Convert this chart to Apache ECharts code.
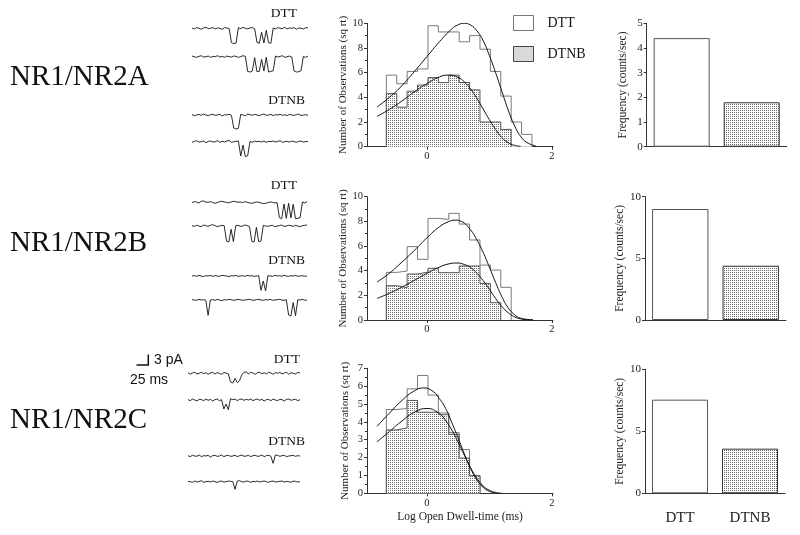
<!DOCTYPE html>
<html><head><meta charset="utf-8">
<script src="https://cdn.jsdelivr.net/npm/echarts@6/dist/echarts.min.js"></script>
<style>html,body{margin:0;padding:0;background:#fff}#c{width:800px;height:535px}</style>
</head><body><div id="c"></div>
<script>
// ================= DATA =================
const rowNames = ['NR1/NR2A', 'NR1/NR2B', 'NR1/NR2C'];
const conditions = ['DTT', 'DTNB'];

// histogram bin edges (log ms)
const binEdges = [-0.65, -0.483, -0.317, -0.15, 0.017, 0.183, 0.35, 0.517, 0.683, 0.85, 1.017, 1.183, 1.35, 1.517, 1.683];
// sqrt counts per bin
const dttHistA  = [5.8, 5.1, 6.1, 6.3, 9.8, 9.3, 9.3, 8.5, 9.0, 7.9, 6.1, 4.1, 2.0, 1.0];
const dtnbHistA = [4.3, 3.2, 4.5, 5.0, 5.6, 5.2, 5.8, 5.2, 4.6, 2.0, 2.0, 1.4];
const dttHistB  = [3.86, 3.97, 5.95, 4.92, 8.24, 8.16, 8.65, 7.78, 6.49, 4.45, 4.05, 2.65];
const dtnbHistB = [2.78, 2.62, 3.73, 3.89, 4.19, 3.84, 3.84, 4.38, 4.38, 2.97, 1.4];
const dttHistC  = [4.69, 4.75, 5.85, 6.6, 5.5, 4.5, 3.4, 2.45, 1.0];
const dtnbHistC = [3.55, 3.66, 5.2, 4.54, 4.54, 4.4, 3.3, 1.97, 0.98];

// fitted curves
const dttFitAx  = [-0.8, -0.6, -0.4, -0.2, 0, 0.2, 0.4, 0.5, 0.6, 0.7, 0.8, 0.9, 1.0, 1.1, 1.2, 1.3, 1.4, 1.5, 1.6, 1.75];
const dttFitAy  = [3.22, 4.0, 4.95, 6.1, 7.3, 8.5, 9.55, 9.88, 10.0, 9.85, 9.4, 8.6, 7.4, 6.0, 4.5, 3.0, 1.75, 0.85, 0.35, 0.05];
const dtnbFitAx = [-0.8, -0.6, -0.4, -0.2, 0, 0.2, 0.35, 0.5, 0.6, 0.7, 0.8, 0.9, 1.0, 1.1, 1.2, 1.3, 1.4, 1.5];
const dtnbFitAy = [2.46, 3.03, 3.7, 4.45, 5.11, 5.65, 5.8, 5.61, 5.25, 4.67, 3.92, 3.06, 2.2, 1.4, 0.74, 0.33, 0.12, 0.03];
const dttFitBx  = [-0.8, -0.6, -0.4, -0.2, 0, 0.2, 0.35, 0.45, 0.55, 0.7, 0.8, 0.9, 1.0, 1.1, 1.2, 1.3, 1.4, 1.5, 1.7];
const dttFitBy  = [3.08, 3.8, 4.7, 5.65, 6.66, 7.56, 7.98, 8.1, 8.0, 7.3, 6.5, 5.5, 4.3, 3.05, 1.9, 1.0, 0.45, 0.15, 0.01];
const dtnbFitBx = [-0.8, -0.6, -0.4, -0.2, 0, 0.2, 0.35, 0.48, 0.6, 0.7, 0.8, 0.9, 1.0, 1.1, 1.2, 1.3, 1.4, 1.5, 1.7];
const dtnbFitBy = [1.75, 2.17, 2.67, 3.22, 3.78, 4.29, 4.55, 4.62, 4.5, 4.25, 3.8, 3.2, 2.5, 1.75, 1.1, 0.6, 0.27, 0.09, 0.0];
const dttFitCx  = [-0.8, -0.6, -0.4, -0.2, -0.05, 0.1, 0.2, 0.3, 0.4, 0.5, 0.6, 0.7, 0.8, 0.9, 1.0, 1.1];
const dttFitCy  = [3.75, 4.49, 5.2, 5.74, 5.9, 5.7, 5.3, 4.75, 3.95, 3.1, 2.2, 1.39, 0.75, 0.34, 0.11, 0.02];
const dtnbFitCx = [-0.8, -0.6, -0.4, -0.2, 0, 0.2, 0.3, 0.4, 0.5, 0.6, 0.7, 0.8, 0.9, 1.0, 1.1, 1.2];
const dtnbFitCy = [2.88, 3.46, 4.05, 4.54, 4.75, 4.46, 4.07, 3.54, 2.86, 2.13, 1.43, 0.84, 0.42, 0.17, 0.05, 0.0];

// opening frequency (counts/sec)
const freqDTT  = [4.4, 9.0, 7.55];
const freqDTNB = [1.8, 4.4, 3.6];

// single-channel traces: current (pA), one sample every traceStepMs
const traceStepMs = 5;
const traceA1 = [0.1,-0.2,0.2,0,-0.3,0.1,0.3,-0.1,0,0.2,-0.2,0.1,0,-0.3,0.2,0.1,-0.1,-4.3,-4.6,-4.4,0.2,-0.1,0.3,0,-0.2,0.1,0.2,-0.1,-4.2,-4.5,-1.2,-4.4,-0.6,-4.3,-4.5,0.1,-0.2,0.2,0,-0.1,0.3,-0.2,0.1,0,0.2,-0.3,0.1,0,-0.2,0.2,0.1];
const traceA2 = [0.2,0,-0.2,0.1,0.3,-0.1,0,0.2,-0.2,0.1,0,0.3,-0.1,0.1,-0.2,0.2,0,-0.1,0.2,0.1,-0.2,0,0.3,0.1,-4.4,-4.6,-4.3,-0.3,-4.5,-4.4,-0.8,-4.3,-0.2,-4.6,-4.4,-4.2,0.2,-0.1,0.1,0.3,-0.2,0,0.2,-0.1,-4.3,-4.6,-4.5,-4.2,0.1,-0.2,0.2];
const traceA3 = [0.1,-0.2,0,0.2,-0.1,0.3,0,-0.2,0.1,0.2,-0.1,0,0.2,-0.3,0.1,0,0.2,-0.1,-3.9,-4.2,-4.0,0.2,0,-0.2,0.3,0.1,-0.1,0.2,0,-0.2,0.1,0.3,-0.1,0,0.2,-0.2,0.1,0,0.2,-0.1,0.1,-0.2,0.2,0,-0.1,0.1,0.3,-0.2,0,0.1,-0.1];
const traceA4 = [-0.2,0.1,0.3,-0.1,0,0.2,-0.3,0.1,0.2,-0.1,0,0.3,-0.2,0.1,-0.1,0.2,0.4,-0.2,0,0.1,0.2,-4.3,-1.0,-4.5,-4.2,0.1,-0.2,0.2,0,0.1,-0.1,0.2,-0.2,0.1,0,0.2,-0.1,0.1,0.3,-0.2,0,0.1,-0.1,0.2,0,-0.2,0.1,0.2,-0.1,0,0.1];
const traceB1 = [-0.1,0.2,0.1,-0.2,0.3,0.4,0.1,0,0.2,-0.1,-0.3,-0.1,0.2,0.3,0.1,0,-0.2,0.1,0.3,0.2,0,0.1,-0.1,0.2,0,-0.2,-0.3,-0.1,0.1,0,-0.2,-0.4,-0.3,-0.1,0.1,0,-0.2,-0.1,-4.6,-4.9,-0.5,-4.8,-0.3,-4.7,-0.6,-4.9,-4.8,-4.6,0.1,-0.2,0.2];
const traceB2 = [0.1,-0.1,0.2,0,-0.2,0.3,0.1,-0.1,0.2,0.4,0.1,-0.2,0,0.2,0.1,-4.5,-4.8,-1.0,-4.7,0.1,0.2,-0.1,0,0.3,0.1,-0.2,-4.6,-4.8,-0.4,-4.7,-4.5,0.2,0,-0.1,0.1,0.2,-0.2,0,0.1,0.3,-0.1,0,0.2,0.1,-0.1,0.2,0,-0.2,0.1,0.2,0.3];
const traceB3 = [0,0.1,-0.1,0.2,0,-0.2,0.1,0,0.2,-0.1,0.1,0,-0.1,0.2,0.1,0,-0.2,0.1,0,0.2,-0.1,0,0.1,-0.1,0.2,0,0.1,-0.1,0,0.1,-4.3,-1.5,-4.5,0.1,0,-0.1,0.2,0,0.1,-0.1,0.2,0,-0.1,0.1,0,0.2,-0.1,0,0.1,-0.1,0];
const traceB4 = [0.1,0,-0.1,0.2,0,0.1,-0.1,-4.6,0,0.1,-0.1,0.2,0,-0.2,0.1,0,0.2,0.1,-0.1,0,0.2,0.1,-0.1,0,0.1,0.2,0,-0.1,0.1,0.2,0,-0.1,0.1,0,0.2,-0.1,0,0.1,0.2,0,-0.1,0.1,-4.5,-4.8,-0.8,-4.7,0.1,0,0.2,-0.1,0];
const traceC1 = [0.2,-0.3,0.1,0.3,-0.2,0,0.3,-0.1,0.2,-0.3,0.1,0.3,-0.2,0.2,0,-0.3,0.2,0.1,-0.2,-2.6,-2.9,-1.5,-2.8,-2.2,-0.5,0.3,0.4,-0.2,0.3,0.1,-0.3,0.2,0.3,-0.1,0.2,-0.2,0.3,0.1,-0.3,0.2,0,0.3,-0.2,0.1,0.3,-0.3,0.2,0,-0.2,0.3,0.1];
const traceC2 = [0.1,-0.2,0.3,0,-0.3,0.2,0.1,-0.2,0.3,-0.1,0.2,-0.3,0.1,0.3,-0.2,0.1,-2.7,-1.2,-2.9,0.4,0.1,0.3,-0.2,0.2,0.3,-0.1,0.2,0,0.3,-0.2,0.1,0.3,-0.1,0.2,-0.3,0.1,0.2,-0.2,0.3,0,-0.2,0.2,0.1,-0.3,0.2,0.3,-0.1,0.1,0.2,-0.2,0.1];
const traceC3 = [0.1,-0.2,0.2,0,-0.1,0.3,-0.2,0.1,0,0.2,-0.3,0.1,0.2,-0.1,0,0.3,-0.2,0.1,0.2,-0.1,0,0.2,-0.2,0.1,0.3,-0.1,0,0.2,-0.2,0.1,0.2,-0.1,0,0.3,-0.2,0.1,0.2,-0.1,-2.2,0.3,0.2,-0.1,0.1,0.2,-0.2,0,0.1,0.2,-0.1,0.1,0];
const traceC4 = [0.1,0,-0.2,0.2,-0.1,0.1,0.3,-0.2,0,0.1,-0.1,0.2,0,-0.2,0.1,0.2,-0.1,0,0.2,0.1,0,-2.3,0.2,0.3,0,-0.1,0.2,0.1,-0.2,0.1,0,0.2,-0.1,0.1,0.2,0,-0.2,0.1,0.2,-0.1,0,0.1,0.2,-0.1,0.1,0,-0.2,0.2,0.1,-0.1,0];

// ================= LAYOUT / STYLE =================
const SERIF = 'Liberation Serif';
const SANS = 'Liberation Sans';
const AX = '#333';

// stipple pattern for DTNB
const pc = document.createElement('canvas');
pc.width = 2; pc.height = 2;
const pctx = pc.getContext('2d');
pctx.fillStyle = '#fff'; pctx.fillRect(0, 0, 2, 2);
pctx.fillStyle = '#6a6a6a'; pctx.fillRect(0, 0, 1, 1);
const stipple = { image: pc, repeat: 'repeat' };

const hists = [
  { dtt: dttHistA, dtnb: dtnbHistA, fits: [[dttFitAx, dttFitAy], [dtnbFitAx, dtnbFitAy]] },
  { dtt: dttHistB, dtnb: dtnbHistB, fits: [[dttFitBx, dttFitBy], [dtnbFitBx, dtnbFitBy]] },
  { dtt: dttHistC, dtnb: dtnbHistC, fits: [[dttFitCx, dttFitCy], [dtnbFitCx, dtnbFitCy]] }
];
const histLayout = [
  { left: 367, top: 23.3, width: 186, height: 123.4, ymax: 10, yint: 2 },
  { left: 367, top: 196.7, width: 186, height: 123.3, ymax: 10, yint: 2 },
  { left: 367, top: 368.3, width: 186, height: 125, ymax: 7, yint: 1 }
];
const barLayout = [
  { left: 646.7, top: 23.3, width: 140, height: 123.4, ymax: 5, yint: 1 },
  { left: 645, top: 196.7, width: 141, height: 123.3, ymax: 10, yint: 5 },
  { left: 645, top: 369.3, width: 140, height: 124, ymax: 10, yint: 5 }
];
const traces = [[traceA1, traceA2, traceA3, traceA4], [traceB1, traceB2, traceB3, traceB4], [traceC1, traceC2, traceC3, traceC4]];
const traceLayout = [
  { left: 192, width: 116, base: [28.3, 56.7, 115, 141.7] },
  { left: 192, width: 115, base: [202.3, 226, 276, 300] },
  { left: 188, width: 112, base: [373.3, 400, 456, 481.7] }
];
const traceLabelPos = [
  [[297, 13], [305, 100]],
  [[297, 185], [305, 260]],
  [[300, 359], [305, 441.7]]
];
const rowLabelY = [77, 243, 420];

function stepData(edges, vals) {
  const d = [[edges[0], 0]];
  vals.forEach((v, i) => d.push([edges[i], v]));
  d.push([edges[vals.length], vals[vals.length - 1]]);
  d.push([edges[vals.length], 0]);
  return d;
}

const grid = [], xAxis = [], yAxis = [], series = [];

// histograms
hists.forEach((h, r) => {
  const L = histLayout[r];
  const gi = grid.length;
  grid.push({ left: L.left, top: L.top, width: L.width, height: L.height });
  xAxis.push({
    gridIndex: gi, type: 'value', min: -0.96, max: 2.02,
    name: r === 2 ? 'Log Open Dwell-time (ms)' : '', nameLocation: 'middle', nameGap: 18,
    nameTextStyle: { fontFamily: SERIF, fontSize: 11.5, color: '#222' },
    axisLine: { show: true, onZero: false, lineStyle: { color: AX, width: 1 } },
    axisTick: { show: true, length: 3, customValues: [0, 2], lineStyle: { color: AX } },
    axisLabel: { customValues: [0, 2], fontFamily: SERIF, fontSize: 10.5, color: '#222', margin: 4 },
    splitLine: { show: false }
  });
  yAxis.push({
    gridIndex: gi, type: 'value', min: 0, max: L.ymax, interval: L.yint,
    name: 'Number of Observations (sq rt)', nameLocation: 'middle', nameGap: 16, nameRotate: 90,
    nameTextStyle: { fontFamily: SERIF, fontSize: 11, color: '#222' },
    axisLine: { show: true, onZero: false, lineStyle: { color: AX, width: 1 } },
    axisTick: { show: true, length: 3, lineStyle: { color: AX } },
    minorTick: { show: true, splitNumber: 2, length: 2, lineStyle: { color: AX } },
    axisLabel: { fontFamily: SERIF, fontSize: 10.5, color: '#222', margin: 4 },
    splitLine: { show: false }
  });
  series.push({
    name: 'DTT', type: 'line', step: 'end', xAxisIndex: gi, yAxisIndex: gi,
    data: stepData(binEdges, h.dtt), symbol: 'none', silent: true, z: 2,
    lineStyle: { color: '#7a7a7a', width: 1 }, itemStyle: { color: '#fff' },
    areaStyle: { color: '#fff', opacity: 1 }
  });
  series.push({
    name: 'DTNB', type: 'line', step: 'end', xAxisIndex: gi, yAxisIndex: gi,
    data: stepData(binEdges, h.dtnb), symbol: 'none', silent: true, z: 3,
    lineStyle: { color: '#555', width: 1 }, itemStyle: { color: '#aaa' },
    areaStyle: { color: stipple, opacity: 1 }
  });
  h.fits.forEach((f, k) => {
    series.push({
      name: conditions[k] + ' fit', type: 'line', smooth: 0.5,
      xAxisIndex: gi, yAxisIndex: gi, symbol: 'none', silent: true, z: 5,
      data: f[0].map((x, i) => [x, f[1][i]]),
      lineStyle: { color: '#111', width: 1 }
    });
  });
});

// frequency bars
barLayout.forEach((L, r) => {
  const gi = grid.length;
  grid.push({ left: L.left, top: L.top, width: L.width, height: L.height });
  xAxis.push({
    gridIndex: gi, type: 'category', data: conditions,
    axisLine: { show: true, lineStyle: { color: AX, width: 1 } },
    axisTick: { show: false },
    axisLabel: { show: r === 2, fontFamily: SERIF, fontSize: 15, color: '#222', margin: 17 }
  });
  yAxis.push({
    gridIndex: gi, type: 'value', min: 0, max: L.ymax, interval: L.yint,
    name: 'Frequency (counts/sec)', nameLocation: 'middle', nameGap: 18, nameRotate: 90,
    nameTextStyle: { fontFamily: SERIF, fontSize: 11.5, color: '#222' },
    axisLine: { show: true, onZero: false, lineStyle: { color: AX, width: 1 } },
    axisTick: { show: true, length: 3, lineStyle: { color: AX } },
    axisLabel: { fontFamily: SERIF, fontSize: 11, color: '#222', margin: 4 },
    splitLine: { show: false }
  });
  series.push({
    name: 'Frequency ' + rowNames[r], type: 'bar', xAxisIndex: gi, yAxisIndex: gi,
    barWidth: '80%', silent: true,
    data: [
      { value: freqDTT[r], itemStyle: { color: '#fff', borderColor: '#555', borderWidth: 1 } },
      { value: freqDTNB[r], itemStyle: { color: stipple, borderColor: '#333', borderWidth: 1 } }
    ]
  });
});

// traces
traces.forEach((row, r) => {
  const T = traceLayout[r];
  row.forEach((tr, k) => {
    const gi = grid.length;
    grid.push({ left: T.left, top: T.base[k] - 5, width: T.width, height: 25 });
    xAxis.push({ gridIndex: gi, type: 'value', min: 0, max: traceStepMs * (tr.length - 1), show: false });
    yAxis.push({ gridIndex: gi, type: 'value', min: -6, max: 1.5, show: false });
    series.push({
      name: rowNames[r] + ' trace ' + (k + 1), type: 'line', xAxisIndex: gi, yAxisIndex: gi,
      data: tr.map((v, i) => [i * traceStepMs, v]), symbol: 'none', silent: true,
      lineStyle: { color: '#111', width: 0.9 }
    });
  });
});

const graphic = [];
rowNames.forEach((n, r) => {
  graphic.push({ type: 'text', x: 10, y: rowLabelY[r], style: { text: n, font: '29px "' + SERIF + '"', fill: '#111', verticalAlign: 'middle' } });
  traceLabelPos[r].forEach((p, k) => {
    graphic.push({ type: 'text', x: p[0], y: p[1], style: { text: conditions[k], font: '13.5px "' + SERIF + '"', fill: '#111', align: 'right', verticalAlign: 'middle' } });
  });
});
// scale bar
graphic.push({ type: 'polyline', shape: { points: [[148.3, 354.5], [148.3, 365], [136.5, 365]] }, style: { stroke: '#111', lineWidth: 1.5, fill: null } });
graphic.push({ type: 'text', x: 154, y: 360, style: { text: '3 pA', font: '14px "' + SANS + '"', fill: '#111', verticalAlign: 'middle' } });
graphic.push({ type: 'text', x: 130, y: 380, style: { text: '25 ms', font: '14px "' + SANS + '"', fill: '#111', verticalAlign: 'middle' } });

const chart = echarts.init(document.getElementById('c'), null, { renderer: 'canvas' });
chart.setOption({
  animation: false,
  backgroundColor: '#fff',
  grid, xAxis, yAxis, series, graphic,
  legend: {
    orient: 'vertical', left: 508, top: 10, itemWidth: 20, itemHeight: 15, itemGap: 15,
    selectedMode: false,
    textStyle: { fontFamily: SERIF, fontSize: 14, color: '#111', padding: [0, 0, 0, 9] },
    data: [
      { name: 'DTT', icon: 'rect', itemStyle: { color: '#fff', borderColor: '#777', borderWidth: 1 } },
      { name: 'DTNB', icon: 'rect', itemStyle: { color: stipple, borderColor: '#444', borderWidth: 1 } }
    ]
  }
});
</script></body></html>
